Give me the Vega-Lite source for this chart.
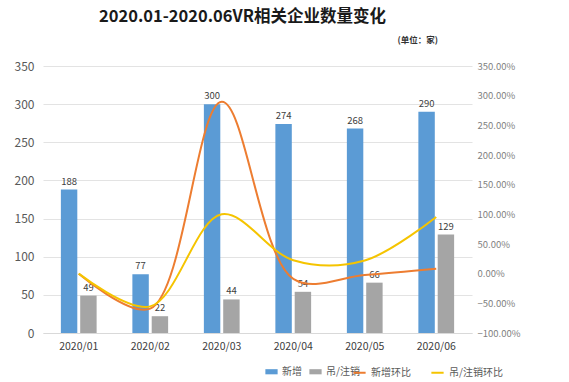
{
  "$schema": "https://vega.github.io/schema/vega-lite/v6.json",
  "width": 429,
  "height": 267,
  "autosize": {"type": "none"},
  "padding": {"left": 43, "top": 66, "right": 97, "bottom": 49},
  "background": "white",
  "title": {
    "text": "2020.01-2020.06VR相关企业数量变化",
    "fontSize": 16.5,
    "fontWeight": "bold",
    "color": "#1a1a1a",
    "anchor": "middle",
    "dx": -15,
    "offset": 10
  },
  "config": {
    "font": "Noto Sans CJK SC",
    "view": {"stroke": null}
  },
  "datasets": {
    "bars": [
      {"month": "2020/01", "series": "新增", "value": 188},
      {"month": "2020/01", "series": "吊/注销", "value": 49},
      {"month": "2020/02", "series": "新增", "value": 77},
      {"month": "2020/02", "series": "吊/注销", "value": 22},
      {"month": "2020/03", "series": "新增", "value": 300},
      {"month": "2020/03", "series": "吊/注销", "value": 44},
      {"month": "2020/04", "series": "新增", "value": 274},
      {"month": "2020/04", "series": "吊/注销", "value": 54},
      {"month": "2020/05", "series": "新增", "value": 268},
      {"month": "2020/05", "series": "吊/注销", "value": 66},
      {"month": "2020/06", "series": "新增", "value": 290},
      {"month": "2020/06", "series": "吊/注销", "value": 129}
    ],
    "lines": [
      {"month": "2020/01", "series": "新增环比", "rate": 0},
      {"month": "2020/02", "series": "新增环比", "rate": -0.59},
      {"month": "2020/03", "series": "新增环比", "rate": 2.896},
      {"month": "2020/04", "series": "新增环比", "rate": -0.087},
      {"month": "2020/05", "series": "新增环比", "rate": -0.022},
      {"month": "2020/06", "series": "新增环比", "rate": 0.082},
      {"month": "2020/01", "series": "吊/注销环比", "rate": 0},
      {"month": "2020/02", "series": "吊/注销环比", "rate": -0.551},
      {"month": "2020/03", "series": "吊/注销环比", "rate": 1.0},
      {"month": "2020/04", "series": "吊/注销环比", "rate": 0.227},
      {"month": "2020/05", "series": "吊/注销环比", "rate": 0.222},
      {"month": "2020/06", "series": "吊/注销环比", "rate": 0.955}
    ]
  },
  "layer": [
    {
      "data": {"name": "bars"},
      "encoding": {
        "x": {
          "field": "month",
          "type": "nominal",
          "scale": {"paddingInner": 0.5, "paddingOuter": 0.25},
          "axis": {
            "title": null,
            "labelAngle": 0,
            "domain": true,
            "domainColor": "#d9d9d9",
            "ticks": false,
            "labelPadding": 8,
            "labelFontSize": 10.5,
            "labelColor": "#404040"
          }
        },
        "xOffset": {
          "field": "series",
          "type": "nominal",
          "sort": ["新增", "吊/注销"],
          "scale": {"paddingInner": 0.15}
        },
        "y": {
          "field": "value",
          "type": "quantitative",
          "scale": {"domain": [0, 350]},
          "axis": {
            "title": null,
            "values": [0, 50, 100, 150, 200, 250, 300, 350],
            "grid": true,
            "gridColor": "#e3e3e3",
            "domain": false,
            "ticks": false,
            "labelPadding": 9,
            "labelFontSize": 12,
            "labelColor": "#595959"
          }
        }
      },
      "layer": [
        {
          "mark": {"type": "bar"},
          "encoding": {
            "fill": {
              "field": "series",
              "type": "nominal",
              "scale": {
                "domain": ["新增", "吊/注销"],
                "range": ["#5B9BD5", "#A5A5A5"]
              },
              "legend": {
                "title": null,
                "orient": "none",
                "legendX": 222,
                "legendY": 299,
                "direction": "horizontal",
                "symbolType": "M-1,-0.42H1V0.42H-1Z",
                "symbolSize": 150,
                "symbolStrokeWidth": 0,
                "labelFontSize": 10,
                "labelColor": "#595959",
                "columnPadding": 7,
                "labelOffset": 4,
                "padding": 0
              }
            }
          }
        },
        {
          "mark": {"type": "text", "dy": -8, "fontSize": 9.5, "color": "#404040"},
          "encoding": {
            "text": {"field": "value", "type": "quantitative"}
          }
        }
      ]
    },
    {
      "data": {"name": "lines"},
      "mark": {"type": "line", "interpolate": "catmull-rom", "strokeWidth": 2},
      "encoding": {
        "x": {"field": "month", "type": "nominal"},
        "y": {
          "field": "rate",
          "type": "quantitative",
          "scale": {"domain": [-1, 3.5]},
          "axis": {
            "orient": "right",
            "format": ".2%",
            "values": [-1, -0.5, 0, 0.5, 1, 1.5, 2, 2.5, 3, 3.5],
            "grid": false,
            "domain": false,
            "ticks": false,
            "labelPadding": 5,
            "labelFontSize": 9.5,
            "labelColor": "#7f7f7f",
            "title": "(单位：家)",
            "titleAngle": 0,
            "titleX": -75,
            "titleY": -27,
            "titleAlign": "left",
            "titleBaseline": "middle",
            "titleFontSize": 8.5,
            "titleFontWeight": "bold",
            "titleColor": "#333333"
          }
        },
        "stroke": {
          "field": "series",
          "type": "nominal",
          "scale": {
            "domain": ["新增环比", "吊/注销环比"],
            "range": ["#ED7D31", "#F5C400"]
          },
          "legend": {
            "title": null,
            "orient": "none",
            "legendX": 309,
            "legendY": 299,
            "direction": "horizontal",
            "symbolType": "stroke",
            "symbolSize": 150,
            "symbolStrokeWidth": 2,
            "labelFontSize": 10,
            "labelColor": "#595959",
            "columnPadding": 16,
            "labelOffset": 4,
            "padding": 0
          }
        }
      }
    }
  ],
  "resolve": {"scale": {"y": "independent"}}
}
